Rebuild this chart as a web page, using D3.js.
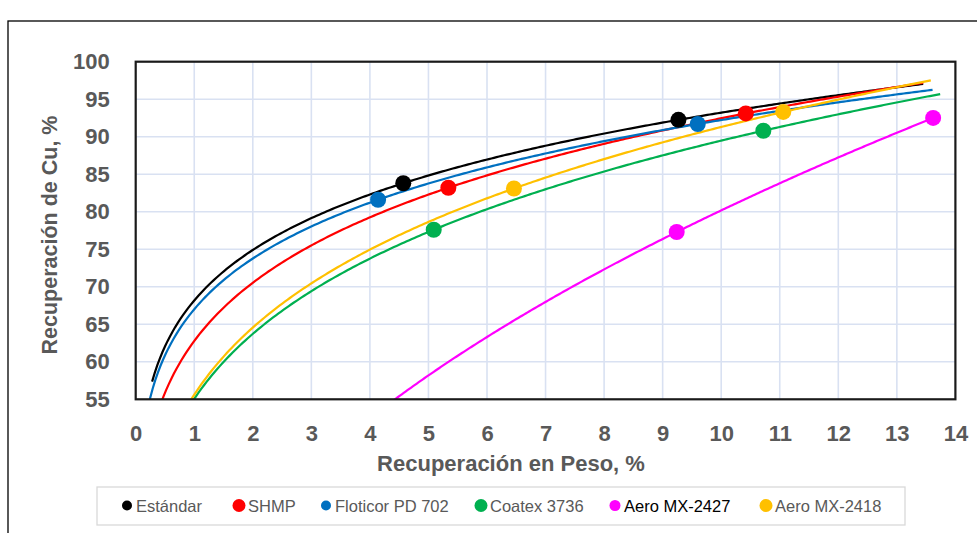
<!DOCTYPE html>
<html>
<head>
<meta charset="utf-8">
<script src="https://cdn.jsdelivr.net/npm/d3@7"></script>
<style>
  html, body { margin: 0; padding: 0; background: #fff; }
  svg { display: block; }
  text { font-family: "Liberation Sans", Arial, sans-serif; }
</style>
</head>
<body>
<svg id="chart" width="977" height="533"></svg>
<script>
// Reactivos evaluados (orden de la leyenda)
const series = ["Estándar", "SHMP", "Floticor PD 702", "Coatex 3736", "Aero MX-2427", "Aero MX-2418"];

// Recuperación en peso (%) de cada punto, por reactivo
const weightRec = [
  [4.57, 9.27],
  [5.34, 10.42],
  [4.14, 9.60],
  [5.09, 10.72],
  [9.24, 13.62],
  [6.46, 11.06]
];

// Recuperación de Cu (%) de cada punto, por reactivo
const copperRec = [
  [83.8, 92.25],
  [83.2, 93.1],
  [81.6, 91.7],
  [77.6, 90.8],
  [77.3, 92.5],
  [83.1, 93.3]
];

// Extremos en x de cada línea de tendencia potencial
const trendFrom = [0.28, 0.30, 0.20, 0.60, 4.00, 0.60];
const trendTo   = [13.45, 13.45, 13.61, 13.74, 13.62, 13.58];

// Marcas de los ejes
const xTicks = d3.range(0, 15, 1);
const yTicks = d3.range(55, 101, 5);

// Estilo
const colors = ["#000000", "#ff0000", "#0070c0", "#00b050", "#ff00ff", "#ffc000"];
const legendR = [5, 6.5, 5, 6.5, 5.5, 6.5];
const textGray = "#595959";

const svg = d3.select("#chart");

// Marco exterior del gráfico
svg.append("rect")
  .attr("x", 8).attr("y", 21)
  .attr("width", 1100).attr("height", 700)
  .attr("fill", "none").attr("stroke", "#000").attr("stroke-width", 1.3);

const plot = { left: 135.7, right: 955.4, top: 61.7, bottom: 399.3 };

const x = d3.scaleLinear().domain([0, 14]).range([plot.left, plot.right]);
const y = d3.scaleLinear().domain([55, 100]).range([plot.bottom, plot.top]);

svg.append("defs").append("clipPath").attr("id", "plotClip")
  .append("rect")
  .attr("x", plot.left).attr("y", plot.top)
  .attr("width", plot.right - plot.left).attr("height", plot.bottom - plot.top);

// Cuadrícula
const grid = svg.append("g");
grid.selectAll("line.v").data(xTicks.slice(1, -1)).join("line")
  .attr("x1", d => x(d)).attr("x2", d => x(d))
  .attr("y1", plot.top).attr("y2", plot.bottom)
  .attr("stroke", "#d9e1f2").attr("stroke-width", 1.6);
grid.selectAll("line.h").data(yTicks.slice(1, -1)).join("line")
  .attr("x1", plot.left).attr("x2", plot.right)
  .attr("y1", d => y(d)).attr("y2", d => y(d))
  .attr("stroke", "#d9e1f2").attr("stroke-width", 1.6);

// Ejes (solo etiquetas; el marco del área de trazado se dibuja aparte)
const xAxis = svg.append("g")
  .attr("transform", `translate(0,${plot.bottom})`)
  .call(d3.axisBottom(x).tickValues(xTicks).tickSize(0).tickPadding(26).tickFormat(d3.format("d")));
xAxis.select(".domain").remove();
xAxis.selectAll("text")
  .attr("font-size", 22).attr("font-weight", "bold").attr("fill", textGray)
  .attr("font-family", "'Liberation Sans', Arial, sans-serif");

const yAxis = svg.append("g")
  .attr("transform", `translate(${plot.left},0)`)
  .call(d3.axisLeft(y).tickValues(yTicks).tickSize(0).tickPadding(26).tickFormat(d3.format("d")));
yAxis.select(".domain").remove();
yAxis.selectAll("text")
  .attr("font-size", 22).attr("font-weight", "bold").attr("fill", textGray)
  .attr("font-family", "'Liberation Sans', Arial, sans-serif");

// Ajuste potencial y = c·x^p por mínimos cuadrados en escala log-log
function powerFit(xs, ys) {
  const lx = xs.map(Math.log), ly = ys.map(Math.log);
  const mx = d3.mean(lx), my = d3.mean(ly);
  let sxy = 0, sxx = 0;
  lx.forEach((v, i) => { sxy += (v - mx) * (ly[i] - my); sxx += (v - mx) * (v - mx); });
  const p = sxy / sxx;
  const c = Math.exp(my - p * mx);
  return t => c * Math.pow(t, p);
}

const lines = svg.append("g").attr("clip-path", "url(#plotClip)");
const line = d3.line().x(d => x(d[0])).y(d => y(d[1])).curve(d3.curveLinear);

series.forEach((name, i) => {
  const f = powerFit(weightRec[i], copperRec[i]);
  const n = 300;
  const pts = d3.range(n + 1).map(k => {
    const t = trendFrom[i] + (trendTo[i] - trendFrom[i]) * k / n;
    return [t, f(t)];
  });
  lines.append("path")
    .attr("d", line(pts))
    .attr("fill", "none")
    .attr("stroke", colors[i])
    .attr("stroke-width", 2.2);
});

// Puntos experimentales
const dots = svg.append("g");
series.forEach((name, i) => {
  dots.selectAll(null)
    .data(weightRec[i].map((v, k) => [v, copperRec[i][k]]))
    .join("circle")
    .attr("cx", d => x(d[0])).attr("cy", d => y(d[1]))
    .attr("r", 8)
    .attr("fill", colors[i]);
});

// Marco del área de trazado
svg.append("rect")
  .attr("x", plot.left).attr("y", plot.top)
  .attr("width", plot.right - plot.left).attr("height", plot.bottom - plot.top)
  .attr("fill", "none").attr("stroke", "#1a1a1a").attr("stroke-width", 2.2);

// Títulos de ejes
svg.append("text")
  .attr("x", 511).attr("y", 471)
  .attr("text-anchor", "middle")
  .attr("font-size", 22).attr("font-weight", "bold").attr("fill", textGray)
  .text("Recuperación en Peso, %");

svg.append("text")
  .attr("transform", "translate(56.5,235) rotate(-90)")
  .attr("text-anchor", "middle")
  .attr("font-size", 21.5).attr("font-weight", "bold").attr("fill", textGray)
  .text("Recuperación de Cu, %");

// Leyenda
const legend = svg.append("g");
legend.append("rect")
  .attr("x", 97).attr("y", 487)
  .attr("width", 808).attr("height", 38)
  .attr("fill", "#fff").attr("stroke", "#d9d9d9").attr("stroke-width", 1.3);

const legendMarkX = [127, 239, 326, 481, 615, 766];
series.forEach((name, i) => {
  legend.append("circle")
    .attr("cx", legendMarkX[i]).attr("cy", 505.5)
    .attr("r", legendR[i]).attr("fill", colors[i]);
  legend.append("text")
    .attr("x", legendMarkX[i] + 9).attr("y", 511.5)
    .attr("font-size", 16.5)
    .attr("fill", name === "Aero MX-2427" ? "#000" : textGray)
    .text(name);
});
</script>
</body>
</html>
